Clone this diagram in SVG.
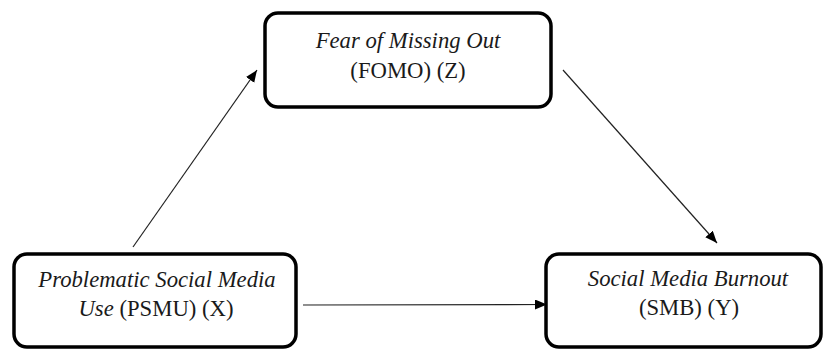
<svg xmlns="http://www.w3.org/2000/svg" width="824" height="351" viewBox="0 0 824 351">
<style>
.box{fill:#fff;stroke:#000;stroke-width:3.5}
.t{font-family:'Liberation Serif','Times New Roman',serif;font-size:22.7px;fill:#1a1a1a;text-anchor:middle}
.i{font-style:italic}
.c{stroke:#222;stroke-width:1.2;fill:none;marker-end:url(#ah)}
</style>
<defs>
<marker id="ah" markerUnits="userSpaceOnUse" markerWidth="14" markerHeight="12" refX="12" refY="5" orient="auto">
<path d="M0,0 L12,5 L0,10 Z" fill="#000"/>
</marker>
</defs>
<rect width="824" height="351" fill="#fff"/>
<g id="connectors">
<line class="c" x1="133" y1="247" x2="257" y2="70"/>
<line class="c" x1="303" y1="305" x2="547" y2="304.5"/>
<line class="c" x1="563" y1="70" x2="717" y2="243"/>
</g>
<g id="fomo">
<rect class="box" x="265" y="13" width="286" height="94" rx="13"/>
<text class="t i" x="408" y="48">Fear of Missing Out</text>
<text class="t" x="408" y="78">(FOMO) (Z)</text>
</g>
<g id="psmu">
<rect class="box" x="14" y="254" width="282" height="93" rx="13"/>
<text class="t i" x="157" y="287">Problematic Social Media</text>
<text class="t" x="156" y="316"><tspan class="i">Use</tspan> (PSMU) (X)</text>
</g>
<g id="smb">
<rect class="box" x="546" y="254" width="275" height="93" rx="13"/>
<text class="t i" x="688" y="286">Social Media Burnout</text>
<text class="t" x="689" y="315">(SMB) (Y)</text>
</g>
</svg>
